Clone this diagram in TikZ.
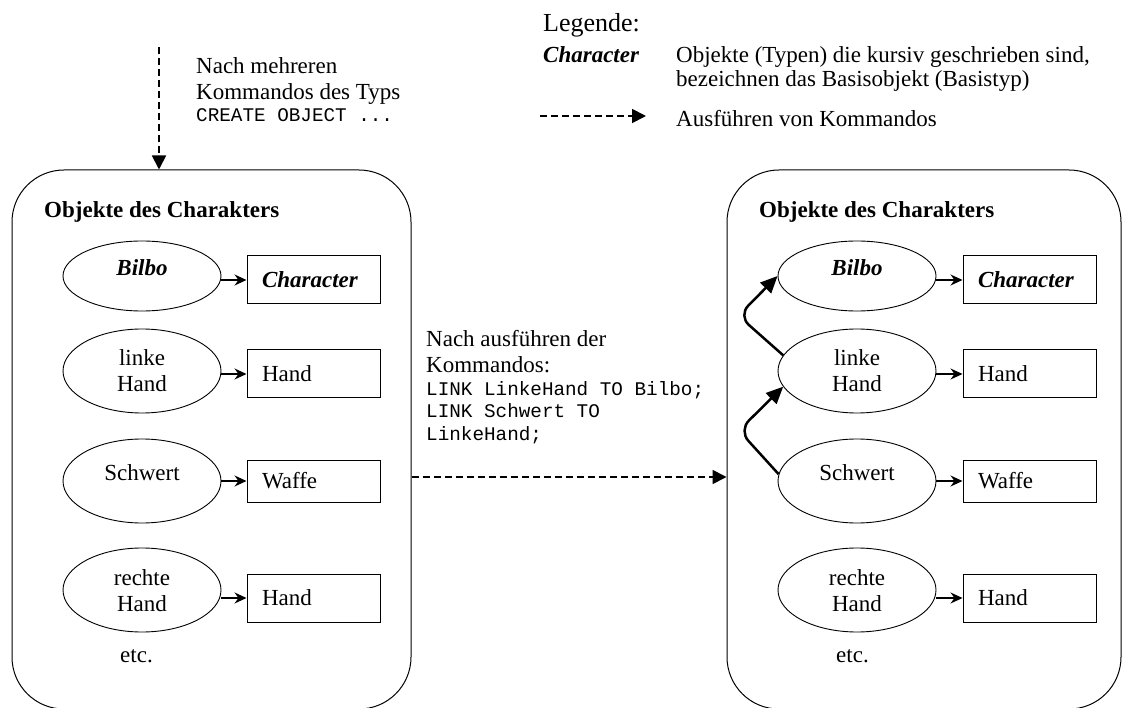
\documentclass[tikz,border=0pt]{standalone}
\usepackage{fontspec}
\setmainfont{Liberation Serif}
\setmonofont{Liberation Mono}
\usetikzlibrary{arrows.meta,shapes.geometric,calc}

% two centred lines whose reference point is the first baseline
\newcommand\twoline[2]{\begin{tabular}[t]{@{}c@{}}#1\\#2\end{tabular}}

\begin{document}
\begin{tikzpicture}[x=1pt,y=-1pt,
  txt/.style={font=\fontsize{23}{26}\selectfont, inner sep=0pt},
  bigtxt/.style={font=\fontsize{26}{28}\selectfont, inner sep=0pt},
  code/.style={font=\ttfamily\fontsize{19.3}{22}\selectfont, inner sep=0pt},
  title/.style={font=\fontsize{23}{25}\selectfont\bfseries, inner sep=0pt, anchor=base west},
  panel/.style={draw, line width=1pt, rounded corners=52pt, inner sep=0pt,
    minimum height=539pt},
  objell/.style={ellipse, draw, line width=0.9pt, minimum width=158pt,
    minimum height=84pt, inner sep=0pt},
  typebox/.style={rectangle, draw, line width=1pt, minimum height=48pt,
    text width=103pt, inner xsep=15pt, inner ysep=0pt, align=left,
    font=\fontsize{23}{25}\selectfont},
  isa/.style={-{Stealth[length=12pt,width=11pt,inset=4pt]}, line width=1.1pt},
  cmd/.style={-{Triangle[length=14pt,width=14pt]}, line width=1.8pt,
    dash pattern=on 7pt off 4pt},
  link/.style={-{Triangle[length=17pt,width=15pt]}, line width=2.5pt,
    rounded corners=14pt}
]
\useasboundingbox (0,0) rectangle (1122,708);

% ---------------- legend ----------------
\node[bigtxt, anchor=base west] (leg) at (543,32) {Legende:};
\node[txt, anchor=base west, font=\fontsize{23}{25}\selectfont\bfseries\itshape]
  (legchar) at (543,63) {Character};
\node[txt, anchor=base west] (legtxtA) at (676,63)
  {Objekte (Typen) die kursiv geschrieben sind,};
\node[txt, anchor=base west] (legtxtB) at (676,87)
  {bezeichnen das Basisobjekt (Basistyp)};
\coordinate (legA) at (540,116);
\coordinate (legB) at (646,116);
\draw[cmd] (legA) -- (legB);
\node[txt, anchor=base west] (legtxtC) at (676,127) {Ausführen von Kommandos};

% ---------------- left panel ----------------
\node[panel, minimum width=399pt] (lpanel) at (211.5,439.5) {};
\node[title] (ltitle) at (44,218) {Objekte des Charakters};

\node[objell, minimum height=70pt] (lb) at (142,276) {};
\node[objell] (ll) at (142,371) {};
\node[objell] (ls) at (142,481) {};
\node[objell] (lr) at (142,590) {};

\node[txt, anchor=base, font=\fontsize{23}{25}\selectfont\bfseries\itshape]
  (lbt) at (142,276) {Bilbo};
\node[txt, anchor=base] (llt) at (142,366) {\twoline{linke}{Hand}};
\node[txt, anchor=base] (lst) at (142,480) {Schwert};
\node[txt, anchor=base] (lrt) at (142,585) {\twoline{rechte}{Hand}};

\node[typebox, font=\fontsize{23}{25}\selectfont\bfseries\itshape]
  (lbb) at (313.5,280) {Character};
\node[typebox] (llb) at (313.5,374) {Hand};
\node[typebox, minimum height=42pt] (lsb) at (313.5,481) {Waffe};
\node[typebox] (lrb) at (313.5,598) {Hand};

\draw[isa] (lbb.west -| lb.east) -- (lbb.west);
\draw[isa] (llb.west -| ll.east) -- (llb.west);
\draw[isa] (lsb.west -| ls.east) -- (lsb.west);
\draw[isa] (lrb.west -| lr.east) -- (lrb.west);

\node[txt, anchor=base west] (letc) at (120,662) {etc.};

% ---------------- right panel ----------------
\node[panel, minimum width=394pt] (rpanel) at (924,439.5) {};
\node[title] (rtitle) at (759,218) {Objekte des Charakters};

\node[objell, minimum height=70pt] (rb) at (857,276) {};
\node[objell] (rl) at (857,371) {};
\node[objell] (rs) at (857,481) {};
\node[objell] (rr) at (857,590) {};

\node[txt, anchor=base, font=\fontsize{23}{25}\selectfont\bfseries\itshape]
  (rbt) at (857,276) {Bilbo};
\node[txt, anchor=base] (rlt) at (857,366) {\twoline{linke}{Hand}};
\node[txt, anchor=base] (rst) at (857,480) {Schwert};
\node[txt, anchor=base] (rrt) at (857,585) {\twoline{rechte}{Hand}};

\node[typebox, font=\fontsize{23}{25}\selectfont\bfseries\itshape]
  (rbb) at (1029.5,280) {Character};
\node[typebox] (rlb) at (1029.5,374) {Hand};
\node[typebox, minimum height=42pt] (rsb) at (1029.5,481) {Waffe};
\node[typebox] (rrb) at (1029.5,598) {Hand};

\draw[isa] (rbb.west -| rb.east) -- (rbb.west);
\draw[isa] (rlb.west -| rl.east) -- (rlb.west);
\draw[isa] (rsb.west -| rs.east) -- (rsb.west);
\draw[isa] (rrb.west -| rr.east) -- (rrb.west);

\node[txt, anchor=base west] (retc) at (836,662) {etc.};

% links created by the commands
\draw[link] (rl.168) -- ([xshift=-42pt]$(rl.168)!0.5!(rb.west)$) -- (rb.west);
\draw[link] (rs.175) -- ([xshift=-42pt]$(rs.175)!0.5!(rl.192)$) -- (rl.192);

% ---------------- commands ----------------
\coordinate (topstart) at (159,47);
\draw[cmd] (topstart) -- (topstart |- lpanel.north);
\node[txt, anchor=base west] (topA) at (196,74) {Nach mehreren};
\node[txt, anchor=base west] (topB) at (196,100) {Kommandos des Typs};
\node[code, anchor=base west] (topC) at (196,122) {CREATE OBJECT ...};

\node[txt, anchor=base west] (midA) at (426,347) {Nach ausführen der};
\node[txt, anchor=base west] (midB) at (426,373) {Kommandos:};
\node[code, anchor=base west] (midC) at (426,396) {LINK LinkeHand TO Bilbo;};
\node[code, anchor=base west] (midD) at (426,418) {LINK Schwert TO};
\node[code, anchor=base west] (midE) at (426,440) {LinkeHand;};

\coordinate (midrow) at (0,477);
\draw[cmd] (lpanel.east |- midrow) -- (rpanel.west |- midrow);
\end{tikzpicture}
\end{document}
